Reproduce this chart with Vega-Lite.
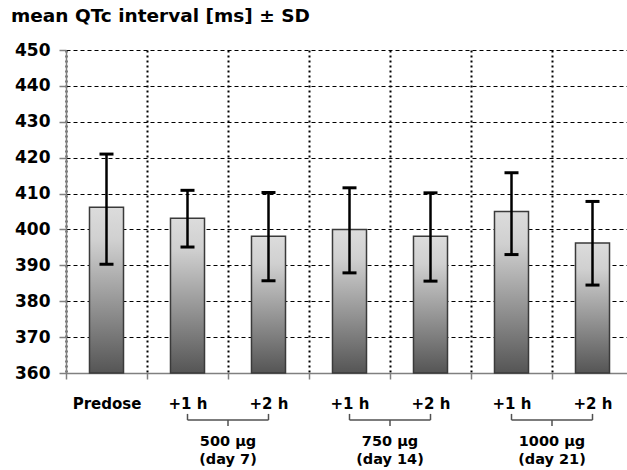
{
  "$schema": "https://vega.github.io/schema/vega-lite/v6.json",
  "width": 561,
  "height": 323,
  "autosize": {"type": "none"},
  "padding": {"left": 66, "top": 50, "right": 0, "bottom": 97},
  "background": "white",
  "title": {
    "text": "mean QTc interval [ms] ± SD",
    "anchor": "start",
    "frame": "group",
    "dx": -55,
    "offset": 16,
    "font": "DejaVu Sans",
    "fontSize": 18.5,
    "fontWeight": "bold",
    "color": "black"
  },
  "config": {"view": {"stroke": null}, "font": "DejaVu Sans"},
  "data": {"values": [
      {"key": "Predose", "mean": 406.2, "lo": 390.3, "hi": 421.0},
      {"key": "+1 h", "mean": 403.1, "lo": 395.1, "hi": 410.9},
      {"key": "+2 h", "mean": 398.1, "lo": 385.7, "hi": 410.3},
      {"key": " +1 h ", "mean": 400.0, "lo": 387.9, "hi": 411.6},
      {"key": " +2 h ", "mean": 398.1, "lo": 385.6, "hi": 410.2},
      {"key": "  +1 h  ", "mean": 405.0, "lo": 393.0, "hi": 415.8},
      {"key": "  +2 h  ", "mean": 396.2, "lo": 384.5, "hi": 407.8}
  ]},
  "layer": [
    {
      "mark": {
        "type": "bar",
        "width": {"band": 0.42},
        "stroke": "#3a3a3a",
        "strokeWidth": 1.5,
        "fill": {
          "gradient": "linear",
          "x1": 0, "y1": 0, "x2": 0, "y2": 1,
          "stops": [
            {"offset": 0, "color": "#dcdcdc"},
            {"offset": 0.2, "color": "#d0d0d0"},
            {"offset": 1, "color": "#555555"}
          ]
        }
      },
      "encoding": {
        "x": {
          "field": "key",
          "type": "nominal",
          "sort": null,
          "title": null,
          "scale": {"paddingInner": 0, "paddingOuter": 0, "range": [0, 567]},
          "axis": {
            "tickBand": "extent",
            "grid": true,
            "labelAngle": 0,
            "gridColor": "black",
            "gridWidth": 2,
            "gridDash": [2, 3],
            "domainColor": "#808080",
            "domainWidth": 1.5,
            "tickColor": "#808080",
            "tickSize": 6,
            "tickWidth": 1.5,
            "labelFontSize": 15,
            "labelFontWeight": "bold",
            "labelColor": "black",
            "labelBaseline": "alphabetic",
            "labelPadding": 29,
            "labelOverlap": false
          }
        },
        "y": {
          "field": "mean",
          "type": "quantitative",
          "title": null,
          "scale": {"domain": [360, 450], "zero": false, "nice": false},
          "axis": {
            "tickCount": 10,
            "gridColor": "black",
            "gridWidth": 1,
            "gridDash": [4, 3],
            "domainColor": "#808080",
            "domainWidth": 1.5,
            "tickColor": "#808080",
            "tickSize": 7,
            "tickWidth": 1.5,
            "labelFontSize": 17,
            "labelFontWeight": "bold",
            "labelColor": "black",
            "labelPadding": 9
          }
        },
        "y2": {"datum": 360}
      }
    },
    {
      "mark": {"type": "rule", "color": "black", "strokeWidth": 2.5},
      "encoding": {
        "x": {"field": "key", "type": "nominal", "sort": null},
        "y": {"field": "lo", "type": "quantitative"},
        "y2": {"field": "hi"}
      }
    },
    {
      "mark": {"type": "tick", "color": "black", "size": 14, "thickness": 3, "opacity": 1},
      "encoding": {
        "x": {"field": "key", "type": "nominal", "sort": null},
        "y": {"field": "lo", "type": "quantitative"}
      }
    },
    {
      "mark": {"type": "tick", "color": "black", "size": 14, "thickness": 3, "opacity": 1},
      "encoding": {
        "x": {"field": "key", "type": "nominal", "sort": null},
        "y": {"field": "hi", "type": "quantitative"}
      }
    },
    {
      "data": {"values": [
        {"first": "+1 h", "second": "+2 h", "dose": "500 µg", "day": "(day 7)"},
        {"first": " +1 h ", "second": " +2 h ", "dose": "750 µg", "day": "(day 14)"},
        {"first": "  +1 h  ", "second": "  +2 h  ", "dose": "1000 µg", "day": "(day 21)"}
      ]},
      "layer": [
        {
          "mark": {"type": "rule", "color": "#505050", "strokeWidth": 1.5},
          "encoding": {
            "x": {"field": "first", "type": "nominal", "sort": null},
            "x2": {"field": "second"},
            "y": {"datum": 346.9}
          }
        },
        {
          "mark": {"type": "rule", "color": "#505050", "strokeWidth": 1.5},
          "encoding": {
            "x": {"field": "first", "type": "nominal", "sort": null},
            "y": {"datum": 346.9},
            "y2": {"datum": 348.6}
          }
        },
        {
          "mark": {"type": "rule", "color": "#505050", "strokeWidth": 1.5},
          "encoding": {
            "x": {"field": "second", "type": "nominal", "sort": null},
            "y": {"datum": 346.9},
            "y2": {"datum": 348.6}
          }
        },
        {
          "mark": {"type": "rule", "color": "#505050", "strokeWidth": 1.5},
          "encoding": {
            "x": {"field": "first", "type": "nominal", "sort": null, "bandPosition": 1},
            "y": {"datum": 346.9},
            "y2": {"datum": 345.2}
          }
        },
        {
          "mark": {"type": "text", "fontSize": 14.5, "fontWeight": "bold", "color": "black", "align": "center", "baseline": "alphabetic"},
          "encoding": {
            "x": {"field": "first", "type": "nominal", "sort": null, "bandPosition": 1},
            "y": {"datum": 339.7},
            "text": {"field": "dose"}
          }
        },
        {
          "mark": {"type": "text", "fontSize": 14.5, "fontWeight": "bold", "color": "black", "align": "center", "baseline": "alphabetic"},
          "encoding": {
            "x": {"field": "first", "type": "nominal", "sort": null, "bandPosition": 1},
            "y": {"datum": 334.6},
            "text": {"field": "day"}
          }
        }
      ]
    }
  ]
}
